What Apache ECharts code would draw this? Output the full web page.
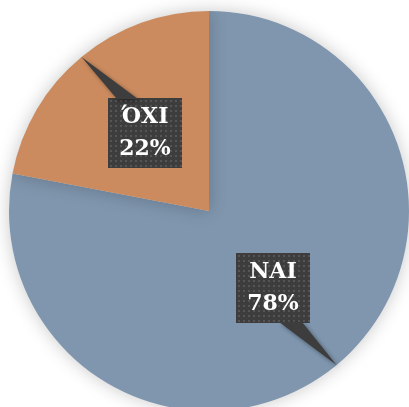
<!DOCTYPE html>
<html>
<head>
<meta charset="utf-8">
<script src="https://cdn.jsdelivr.net/npm/echarts@6/dist/echarts.min.js"></script>
<style>html,body{margin:0;padding:0;background:#fff;}#c{width:409px;height:407px;}</style>
</head>
<body>
<div id="c"></div>
<script>
var categories = ['NAI', 'ΌΧΙ'];
var values = [78, 22];
var colors = ['#7F96AE', '#CB8B5F'];
var labelCenters = [[273, 288], [145, 133]];
// wedge base on the label box: [x offset from label centre start, end, y offset]
var wedgeBase = [[6, 29, 34], [-28, -7, -34]];

function dotPattern(w, h) {
  var cv = document.createElement('canvas');
  cv.width = w; cv.height = h;
  var ctx = cv.getContext('2d');
  ctx.fillStyle = '#3d3d3d';
  ctx.fillRect(0, 0, w, h);
  ctx.fillStyle = '#555555';
  for (var y = 2; y < h; y += 5) {
    for (var x = 2; x < w; x += 5) {
      ctx.fillRect(x, y, 2, 2);
    }
  }
  return cv;
}
var pat = dotPattern(74, 70);

var chart = echarts.init(document.getElementById('c'));
chart.setOption({
  animation: false,
  backgroundColor: '#ffffff',
  series: [{
    type: 'pie',
    center: [209, 211],
    radius: 200,
    startAngle: 90,
    clockwise: true,
    data: categories.map(function (c, i) {
      return { name: c, value: values[i], itemStyle: { color: colors[i] } };
    }),
    itemStyle: {
      shadowBlur: 18,
      shadowColor: 'rgba(0,0,0,0.22)'
    },
    label: {
      show: true,
      position: 'outside',
      formatter: '{b}\n{d}%',
      fontFamily: 'DejaVu Serif',
      fontWeight: 'bold',
      fontSize: 22,
      lineHeight: 32,
      color: '#ffffff',
      align: 'center',
      padding: [3, 10, 3, 10],
      width: 54,
      backgroundColor: { image: pat },
      shadowColor: 'rgba(0,0,0,0.45)',
      shadowBlur: 4,
      shadowOffsetX: 3,
      shadowOffsetY: 3
    },
    labelLine: { show: false },
    labelLayout: function (p) {
      var c = labelCenters[p.dataIndex];
      return { x: c[0], y: c[1], align: 'center', verticalAlign: 'middle' };
    },
    emphasis: { disabled: true }
  }]
});

// callout pointers: tip at the slice's mid-angle on the rim, from the library's pie layout
var data = chart.getModel().getSeriesByIndex(0).getData();
var elems = [];
for (var i = 0; i < values.length; i++) {
  var L = data.getItemLayout(i);
  var mid = (L.startAngle + L.endAngle) / 2;
  var tip = [L.cx + L.r * Math.cos(mid), L.cy + L.r * Math.sin(mid)];
  var c = labelCenters[i], b = wedgeBase[i];
  elems.push({
    type: 'polygon',
    z: 3,
    silent: true,
    shape: { points: [[c[0] + b[0], c[1] + b[2]], [c[0] + b[1], c[1] + b[2]], tip] },
    style: { fill: '#3d3d3d', shadowColor: 'rgba(0,0,0,0.4)', shadowBlur: 4, shadowOffsetX: 2, shadowOffsetY: 2 }
  });
}
chart.setOption({ graphic: { elements: elems } });
</script>
</body>
</html>
